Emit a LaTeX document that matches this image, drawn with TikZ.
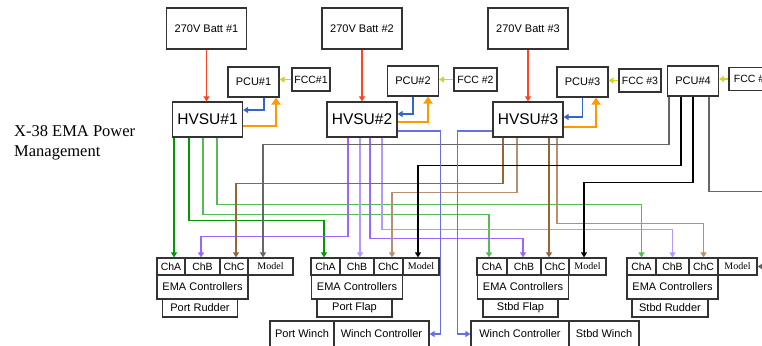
\documentclass[tikz,border=0pt]{standalone}
\usepackage{fontspec}
\setmainfont{Liberation Serif}
\setsansfont{Liberation Sans}
\usetikzlibrary{arrows.meta}

\definecolor{battred}{HTML}{FF4422}
\definecolor{fccyel}{HTML}{D4D41C}
\definecolor{fbblue}{HTML}{3366CC}
\definecolor{retorange}{HTML}{FF9900}
\definecolor{winchblue}{HTML}{6670E0}
\definecolor{grnA}{HTML}{009900}
\definecolor{grnB}{HTML}{55BB55}
\definecolor{purA}{HTML}{9966FF}
\definecolor{purB}{HTML}{B399FF}
\definecolor{brnA}{HTML}{996633}
\definecolor{brnB}{HTML}{B89070}
\definecolor{gryA}{HTML}{666666}

\begin{document}
\begin{tikzpicture}[
    x=1pt, y=-1pt,
    >={Triangle[width=6pt,length=5pt]},
    every node/.style={font=\sffamily\fontsize{11}{13}\selectfont},
    box/.style={draw=black!80, line width=1.2pt, inner sep=0pt},
    batt/.style={box, minimum width=80pt, minimum height=41pt},
    pcu/.style={box, minimum width=51pt, minimum height=30pt},
    fcc/.style={box, minimum height=23pt, font=\sffamily\fontsize{10.5}{12}\selectfont},
    hvsu/.style={box, minimum width=70pt, minimum height=35pt, font=\sffamily\fontsize{15.5}{18}\selectfont},
    cell/.style={box, minimum height=17pt, font=\sffamily\fontsize{10.5}{12}\selectfont},
    model/.style={cell, font=\rmfamily\fontsize{10}{12}\selectfont},
    ema/.style={box, minimum width=91pt, minimum height=24pt},
    surf/.style={box, minimum width=75pt, minimum height=18pt},
    winch/.style={box, minimum height=26pt},
    feed/.style={->, draw=battred, line width=1.1pt},
    cmd/.style={->, draw=fccyel, line width=1.1pt},
    fb/.style={->, draw=fbblue, line width=1.1pt},
    ret/.style={-{Triangle[width=9pt,length=7pt]}, draw=retorange, line width=2.4pt},
    wch/.style={->, draw=winchblue, line width=1.1pt},
    sig/.style={->, line width=1.1pt}
  ]

  \useasboundingbox (0,0) rectangle (762,345);

  % Title
  \node[font=\rmfamily\fontsize{16.5}{20}\selectfont, align=left, anchor=north west, inner sep=0pt] (title) at (14,125) {X-38 EMA Power\\Management};

  %------------------ Top row: batteries, PCUs, FCCs, HVSUs ------------------%
  \node[batt] (b1) at (206.5,28.5) {270V Batt \#1};
  \node[batt] (b2) at (362,28.5) {270V Batt \#2};
  \node[batt] (b3) at (528,28.5) {270V Batt \#3};

  \node[pcu] (p1) at (253.5,82) {PCU\#1};
  \node[fcc, minimum width=38pt] (f1) at (311,79.5) {FCC\#1};
  \node[pcu] (p2) at (413,81) {PCU\#2};
  \node[fcc, minimum width=43pt] (f2) at (475.5,79.5) {FCC \#2};
  \node[pcu] (p3) at (582.5,82) {PCU\#3};
  \node[fcc, minimum width=42pt] (f3) at (640,80.5) {FCC \#3};
  \node[pcu] (p4) at (693,81) {PCU\#4};
  \node[fcc, minimum width=46pt] (f4) at (752,79) {FCC \#4};

  \node[hvsu] (h1) at (207.5,119.5) {HVSU\#1};
  \node[hvsu] (h2) at (362,119.5) {HVSU\#2};
  \node[hvsu] (h3) at (528,119.5) {HVSU\#3};

  %------------------ Bottom row: EMA controllers ------------------%
  % Port rudder
  \node[cell, minimum width=28pt] (pr-a) at (171,266.5) {ChA};
  \node[cell, minimum width=35pt] (pr-b) at (202.5,266.5) {ChB};
  \node[cell, minimum width=28pt] (pr-c) at (234,266.5) {ChC};
  \node[model, minimum width=45pt] (pr-m) at (270.5,266.5) {Model};
  \node[ema] (pr-e) at (202.5,287) {EMA Controllers};
  \node[surf] (pr-s) at (200,308) {Port Rudder};

  % Port flap
  \node[cell, minimum width=29pt] (pf-a) at (325.5,266.5) {ChA};
  \node[cell, minimum width=34pt] (pf-b) at (357,266.5) {ChB};
  \node[cell, minimum width=29pt] (pf-c) at (388.5,266.5) {ChC};
  \node[model, minimum width=36pt] (pf-m) at (421,266.5) {Model};
  \node[ema] (pf-e) at (357,287) {EMA Controllers};
  \node[surf] (pf-s) at (354.5,308) {Port Flap};

  % Stbd flap
  \node[cell, minimum width=30pt] (sf-a) at (492,266.5) {ChA};
  \node[cell, minimum width=34pt] (sf-b) at (524,266.5) {ChB};
  \node[cell, minimum width=28pt] (sf-c) at (555,266.5) {ChC};
  \node[model, minimum width=37pt] (sf-m) at (587.5,266.5) {Model};
  \node[ema] (sf-e) at (523,287) {EMA Controllers};
  \node[surf] (sf-s) at (520.5,308) {Stbd Flap};

  % Stbd rudder
  \node[cell, minimum width=29pt] (sr-a) at (641.5,266.5) {ChA};
  \node[cell, minimum width=33pt] (sr-b) at (672.5,266.5) {ChB};
  \node[cell, minimum width=29pt] (sr-c) at (703.5,266.5) {ChC};
  \node[model, minimum width=39pt] (sr-m) at (737.5,266.5) {Model};
  \node[ema] (sr-e) at (672.5,287) {EMA Controllers};
  \node[surf, minimum width=76pt] (sr-s) at (670,308) {Stbd Rudder};

  % Winches
  \node[winch, minimum width=64pt] (pw-n) at (302,334) {Port Winch};
  \node[winch, minimum width=95pt] (pw-c) at (381.5,334) {Winch Controller};
  \node[winch, minimum width=98pt] (sw-c) at (520,334) {Winch Controller};
  \node[winch, minimum width=70pt] (sw-n) at (604,334) {Stbd Winch};

  %------------------ Power and command links ------------------%
  % Battery feeds
  \draw[feed] (b1.south) -- (b1.south |- h1.north);
  \draw[feed] (b2.south) -- (b2.south |- h2.north);
  \draw[feed] (b3.south) -- (b3.south |- h3.north);

  % FCC commands
  \draw[cmd] (f1.west) -- (f1.west -| p1.east);
  \draw[cmd] (f2.west) -- (f2.west -| p2.east);
  \draw[cmd] (f3.west) -- (f3.west -| p3.east);
  \draw[cmd] (f4.west) -- (f4.west -| p4.east);

  % PCU to HVSU
  \draw[fb] ([xshift=10.5pt]p1.south) |- ([yshift=9.5pt]h1.east);
  \draw[fb] (p2.south) |- ([yshift=5.5pt]h2.east);
  \draw[fb] (p3.south) |- ([yshift=2.5pt]h3.east);

  % HVSU to PCU
  \draw[ret] ([yshift=-6.5pt]h1.east) -| ([xshift=22.5pt]p1.south);
  \draw[ret] ([yshift=-2.5pt]h2.east) -| ([xshift=15pt]p2.south);
  \draw[ret] ([yshift=-7.5pt]h3.east) -| ([xshift=13.5pt]p3.south);

  %------------------ Channel links ------------------%
  % HVSU#1 -> ChA
  \draw[sig, draw=grnA] ([xshift=-33.5pt]h1.south) -- ([xshift=3pt]pr-a.north);
  \draw[sig, draw=grnA] ([xshift=-18.5pt]h1.south) -- ++(0,83) -| ([xshift=-1.5pt]pf-a.north);
  \draw[sig, draw=grnB] ([xshift=-4.5pt]h1.south) -- ++(0,77) -| ([xshift=-3pt]sf-a.north);
  \draw[sig, draw=grnB] ([xshift=9.5pt]h1.south) -- ++(0,67) -| (sr-a.north);

  % HVSU#2 -> ChB
  \draw[sig, draw=purA] ([xshift=-14pt]h2.south) -- ++(0,99) -| ([xshift=-1.5pt]pr-b.north);
  \draw[sig, draw=purB] ([xshift=-2pt]h2.south) -- ([xshift=3pt]pf-b.north);
  \draw[sig, draw=purA] ([xshift=8pt]h2.south) -- ++(0,101) -| ([xshift=-1pt]sf-b.north);
  \draw[sig, draw=purB] ([xshift=20pt]h2.south) -- ++(0,92) -| (sr-b.north);

  % HVSU#3 -> ChC
  \draw[sig, draw=brnA] ([xshift=-25pt]h3.south) -- ++(0,46) -| ([xshift=2pt]pr-c.north);
  \draw[sig, draw=brnB] ([xshift=-11pt]h3.south) -- ++(0,55) -| ([xshift=3.5pt]pf-c.north);
  \draw[sig, draw=brnA] ([xshift=21pt]h3.south) -- ([xshift=-6pt]sf-c.north);
  \draw[sig, draw=brnB] ([xshift=29pt]h3.south) -- ++(0,86) -| (sr-c.north);

  % PCU#4 -> Model
  \draw[sig, draw=gryA] ([xshift=-24pt]p4.south) -- ++(0,48) -| ([xshift=-7.5pt]pr-m.north);
  \draw[sig, draw=black] ([xshift=-12pt]p4.south) -- ++(0,69) -| ([xshift=-3pt]pf-m.north);
  \draw[sig, draw=black] (p4.south) -- ++(0,86) -| ([xshift=-3.5pt]sf-m.north);
  \draw[sig, draw=gryA] ([xshift=16pt]p4.south) -- ++(0,95) -- ++(80,0) |- (sr-m.east);

  % Winch feeds
  \draw[wch] ([yshift=-11.5pt]h2.east) -- ++(43,0) |- (pw-c.east);
  \draw[wch] ([yshift=-11.5pt]h3.west) -- ++(-35,0) |- (sw-c.west);

\end{tikzpicture}
\end{document}
